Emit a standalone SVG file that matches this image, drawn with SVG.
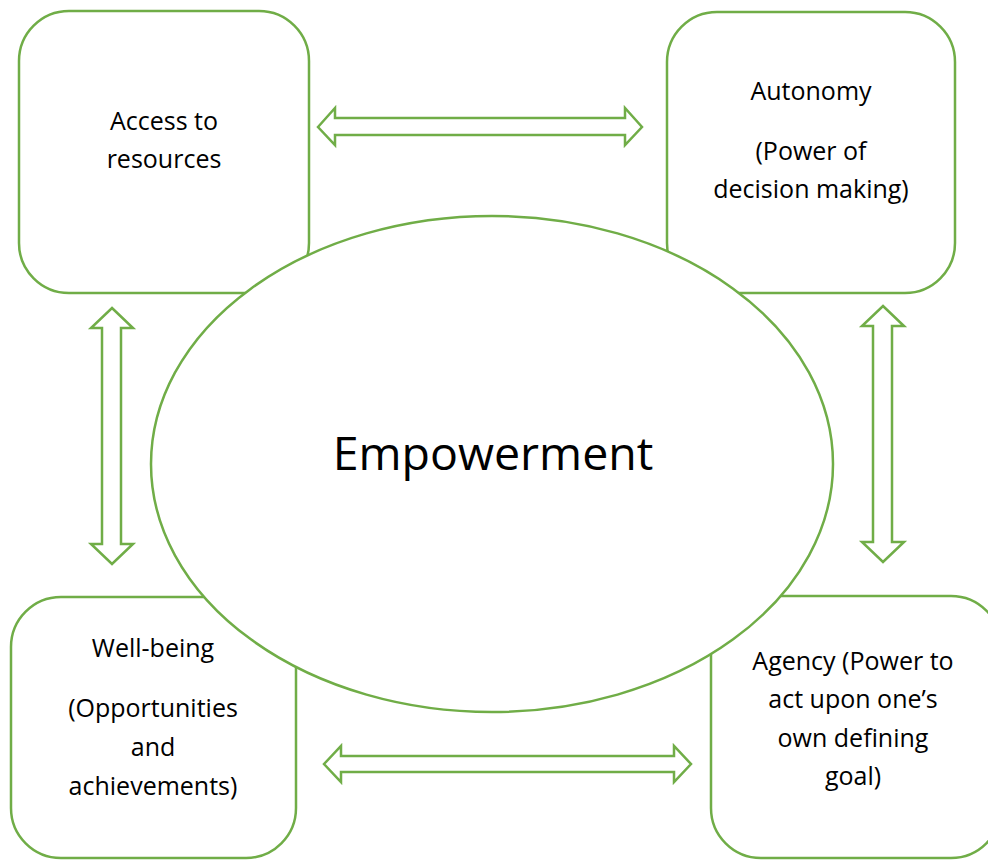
<svg xmlns="http://www.w3.org/2000/svg" width="988" height="860" viewBox="0 0 988 860">
<style>
.box{fill:#fff;stroke:#70AD47;stroke-width:2.5}
.arr{fill:#fff;stroke:#70AD47;stroke-width:2.5;stroke-linejoin:miter}
text{font-family:"Open Sans","Lato","Liberation Sans",sans-serif;font-size:25px;fill:#000;text-anchor:middle}
.big{font-size:46.5px}
</style>
<rect width="988" height="860" fill="#fff"/>
<g id="access"><rect class="box" x="19" y="11" width="290" height="282" rx="50"/><text x="164" y="130">Access to</text><text x="164" y="168">resources</text></g>
<g id="autonomy"><rect class="box" x="667" y="12" width="288" height="281" rx="50"/><text x="811" y="100">Autonomy</text><text x="811" y="160">(Power of</text><text x="811" y="198">decision making)</text></g>
<g id="wellbeing"><rect class="box" x="11" y="597" width="285" height="261" rx="50"/><text x="153" y="657">Well-being</text><text x="153" y="717">(Opportunities</text><text x="153" y="756">and</text><text x="153" y="795">achievements)</text></g>
<g id="agency"><rect class="box" x="711" y="596" width="290" height="262" rx="50"/><text x="853" y="670">Agency (Power to</text><text x="853" y="708">act upon one’s</text><text x="853" y="747">own defining</text><text x="853" y="785">goal)</text></g>
<g id="empowerment"><ellipse class="box" cx="492" cy="464" rx="341" ry="248"/><text class="big" x="493" y="470">Empowerment</text></g>
<g id="connectors">
<path class="arr" d="M318,127 L335,108 L335,118 L625,118 L625,108 L642,127 L625,145 L625,135 L335,135 L335,145 Z"/>
<path class="arr" d="M324,764 L341,746 L341,756 L674,756 L674,746 L691,764 L674,782 L674,772 L341,772 L341,782 Z"/>
<path class="arr" d="M112,308 L133,328 L121,328 L121,544 L133,544 L112,564 L91,544 L102,544 L102,328 L91,328 Z"/>
<path class="arr" d="M883,306 L904,326 L892,326 L892,542 L904,542 L883,562 L862,542 L873,542 L873,326 L862,326 Z"/>
</g>
</svg>
